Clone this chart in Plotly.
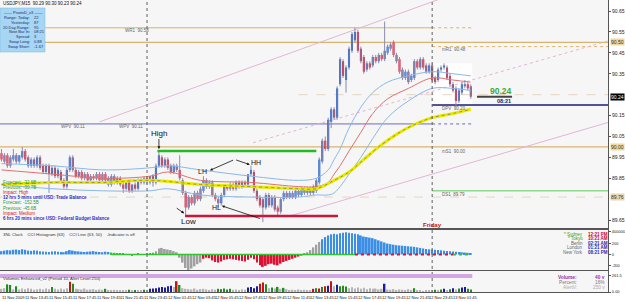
import plotly.graph_objects as go

# ---------------- data ----------------
bar_index = list(range(159))

opens = [
 89.97, 89.93, 89.96, 89.91, 89.94, 89.96, 89.93, 89.95, 89.98, 89.95,
 89.91, 89.94, 89.91, 89.95, 89.91, 89.88, 89.91, 89.87, 89.90, 89.86,
 89.88, 89.84, 89.81, 89.89, 89.95, 89.89, 89.86, 89.88, 89.85, 89.87,
 89.84, 89.86, 89.85, 89.87, 89.84, 89.87, 89.85, 89.82, 89.86, 89.83,
 89.85, 89.82, 89.80, 89.83, 89.79, 89.82, 89.80, 89.84, 89.83, 89.85,
 89.83, 89.86, 89.83, 89.91, 89.95, 89.91, 89.94, 89.91, 89.88, 89.91,
 89.89, 89.84, 89.78, 89.71, 89.76, 89.73, 89.78, 89.75, 89.79, 89.84,
 89.81, 89.83, 89.77, 89.75, 89.73, 89.77, 89.81, 89.80, 89.82, 89.80,
 89.83, 89.81, 89.83, 89.82, 89.87, 89.88, 89.79, 89.76, 89.75, 89.71,
 89.77, 89.72, 89.76, 89.71, 89.69, 89.75, 89.78, 89.76, 89.78, 89.76,
 89.79, 89.77, 89.80, 89.78, 89.80, 89.78, 89.79, 89.83, 89.93, 90.03,
 89.99, 90.12, 90.18, 90.14, 90.30, 90.41, 90.32, 90.38, 90.46, 90.51,
 90.55, 90.47, 90.43, 90.37, 90.40, 90.39, 90.43, 90.41, 90.44, 90.42,
 90.45, 90.47, 90.50, 90.44, 90.42, 90.37, 90.33, 90.36, 90.32, 90.33,
 90.41, 90.38, 90.42, 90.39, 90.36, 90.39, 90.33, 90.32, 90.37, 90.38,
 90.38, 90.34, 90.30, 90.28, 90.22, 90.26, 90.29, 90.30, 90.29]
highs = [
 89.99, 89.97, 89.97, 89.96, 89.99, 89.97, 89.96, 90.00, 89.99, 89.96,
 89.95, 89.95, 89.96, 89.96, 89.92, 89.92, 89.92, 89.91, 89.91, 89.90,
 89.89, 89.85, 89.90, 89.96, 89.96, 89.90, 89.89, 89.89, 89.88, 89.88,
 89.87, 89.87, 89.88, 89.88, 89.88, 89.88, 89.86, 89.87, 89.87, 89.86,
 89.86, 89.83, 89.84, 89.84, 89.82, 89.83, 89.85, 89.85, 89.86, 89.86,
 89.86, 89.87, 89.92, 89.98, 89.96, 89.95, 89.95, 89.92, 89.92, 89.92,
 89.96, 89.85, 89.79, 89.77, 89.77, 89.79, 89.79, 89.81, 89.86, 89.85,
 89.84, 89.84, 89.78, 89.76, 89.78, 89.82, 89.82, 89.83, 89.83, 89.84,
 89.84, 89.84, 89.84, 89.87, 89.91, 89.89, 89.80, 89.77, 89.76, 89.78,
 89.78, 89.77, 89.77, 89.72, 89.76, 89.79, 89.79, 89.79, 89.79, 89.80,
 89.80, 89.81, 89.81, 89.81, 89.81, 89.82, 89.85, 89.95, 90.04, 90.05,
 90.14, 90.19, 90.19, 90.29, 90.43, 90.42, 90.39, 90.48, 90.55, 90.57,
 90.56, 90.48, 90.44, 90.41, 90.41, 90.44, 90.44, 90.45, 90.45, 90.60,
 90.49, 90.50, 90.51, 90.45, 90.43, 90.38, 90.37, 90.37, 90.35, 90.42,
 90.42, 90.43, 90.43, 90.40, 90.40, 90.40, 90.34, 90.38, 90.39, 90.40,
 90.39, 90.35, 90.31, 90.29, 90.28, 90.31, 90.32, 90.31, 90.30]
lows = [
 89.93, 89.92, 89.90, 89.90, 89.93, 89.92, 89.92, 89.94, 89.93, 89.90,
 89.90, 89.90, 89.90, 89.89, 89.87, 89.87, 89.78, 89.86, 89.85, 89.85,
 89.83, 89.80, 89.80, 89.88, 89.88, 89.85, 89.85, 89.84, 89.84, 89.83,
 89.83, 89.84, 89.84, 89.83, 89.83, 89.83, 89.81, 89.81, 89.82, 89.82,
 89.81, 89.78, 89.79, 89.78, 89.78, 89.79, 89.79, 89.82, 89.82, 89.82,
 89.82, 89.81, 89.82, 89.90, 89.90, 89.90, 89.89, 89.87, 89.87, 89.88,
 89.84, 89.77, 89.67, 89.70, 89.72, 89.72, 89.74, 89.74, 89.78, 89.80,
 89.80, 89.76, 89.74, 89.71, 89.72, 89.76, 89.79, 89.79, 89.79, 89.79,
 89.80, 89.80, 89.81, 89.81, 89.86, 89.78, 89.74, 89.71, 89.64, 89.70,
 89.71, 89.71, 89.69, 89.67, 89.68, 89.74, 89.75, 89.75, 89.75, 89.75,
 89.76, 89.76, 89.77, 89.77, 89.77, 89.77, 89.78, 89.82, 89.92, 89.98,
 89.98, 90.09, 90.13, 90.13, 90.29, 90.33, 90.26, 90.37, 90.45, 90.50,
 90.45, 90.40, 90.35, 90.36, 90.37, 90.38, 90.40, 90.40, 90.41, 90.41,
 90.44, 90.46, 90.43, 90.40, 90.35, 90.32, 90.32, 90.30, 90.31, 90.32,
 90.37, 90.37, 90.37, 90.35, 90.35, 90.31, 90.30, 90.31, 90.36, 90.37,
 90.32, 90.29, 90.26, 90.19, 90.21, 90.25, 90.28, 90.27, 90.23]
closes = [
 89.94, 89.96, 89.91, 89.95, 89.96, 89.93, 89.96, 89.98, 89.94, 89.91,
 89.94, 89.91, 89.95, 89.90, 89.88, 89.91, 89.87, 89.90, 89.86, 89.89,
 89.84, 89.81, 89.89, 89.95, 89.89, 89.86, 89.88, 89.85, 89.87, 89.84,
 89.86, 89.85, 89.87, 89.84, 89.87, 89.84, 89.82, 89.86, 89.83, 89.85,
 89.82, 89.80, 89.83, 89.79, 89.82, 89.80, 89.84, 89.83, 89.85, 89.84,
 89.86, 89.83, 89.91, 89.96, 89.91, 89.94, 89.90, 89.88, 89.91, 89.89,
 89.85, 89.78, 89.71, 89.76, 89.73, 89.78, 89.75, 89.80, 89.84, 89.81,
 89.83, 89.77, 89.75, 89.73, 89.77, 89.81, 89.80, 89.82, 89.80, 89.83,
 89.81, 89.83, 89.82, 89.87, 89.89, 89.79, 89.75, 89.72, 89.71, 89.77,
 89.72, 89.76, 89.70, 89.69, 89.75, 89.78, 89.76, 89.78, 89.76, 89.79,
 89.77, 89.80, 89.78, 89.80, 89.78, 89.81, 89.84, 89.94, 90.03, 89.99,
 90.13, 90.18, 90.14, 90.28, 90.42, 90.34, 90.38, 90.47, 90.54, 90.55,
 90.46, 90.41, 90.36, 90.40, 90.38, 90.43, 90.41, 90.44, 90.42, 90.46,
 90.48, 90.49, 90.44, 90.41, 90.36, 90.33, 90.36, 90.31, 90.34, 90.41,
 90.38, 90.42, 90.38, 90.36, 90.39, 90.32, 90.31, 90.37, 90.38, 90.39,
 90.33, 90.30, 90.27, 90.22, 90.27, 90.30, 90.30, 90.28, 90.24]

time_label_index = [0, 8, 16, 24, 32, 40, 48, 56, 64, 72, 80, 88, 96, 104, 112, 120, 128, 136, 144, 152]
time_labels = ["11 Nov 2009", "11 Nov 13:45", "11 Nov 15:45", "11 Nov 17:45", "11 Nov 19:45",
               "11 Nov 21:45", "11 Nov 23:45", "12 Nov 01:45", "12 Nov 03:45", "12 Nov 05:45",
               "12 Nov 07:45", "12 Nov 09:45", "12 Nov 11:45", "12 Nov 13:45", "12 Nov 15:45",
               "12 Nov 17:45", "12 Nov 19:45", "12 Nov 21:45", "12 Nov 23:45", "13 Nov 01:45"]
day_separators = [49, 145]

price_ticks = [90.65, 90.55, 90.45, 90.35, 90.15, 90.05, 89.95, 89.85, 89.65]

ma_idx = [0, 17, 34, 50, 67, 84, 100, 106, 112, 117, 122, 127, 133, 138, 145, 152, 158]
ma_yellow = [89.82, 89.83, 89.83, 89.84, 89.82, 89.81, 89.80, 89.80, 89.84, 89.88, 89.94,
             90.00, 90.06, 90.10, 90.14, 90.16, 90.18]

env_idx = [0, 17, 34, 50, 56, 67, 84, 100, 106, 110, 112, 114, 117, 121, 125, 130, 137, 145, 152, 158]
env_upper = [89.92, 89.91, 89.89, 89.90, 89.91, 89.89, 89.86, 89.84, 89.85, 89.89, 89.94, 89.99,
             90.09, 90.19, 90.26, 90.31, 90.34, 90.36, 90.35, 90.34]
env_mid = [89.89, 89.87, 89.85, 89.86, 89.88, 89.84, 89.83, 89.81, 89.81, 89.83, 89.87, 89.91,
           89.98, 90.07, 90.16, 90.23, 90.28, 90.33, 90.32, 90.31]
env_lower = [89.82, 89.80, 89.79, 89.79, 89.80, 89.77, 89.76, 89.76, 89.77, 89.77, 89.78, 89.81,
             89.87, 89.95, 90.04, 90.14, 90.22, 90.28, 90.28, 90.27]

# pivot levels
WR1, R_LINE, MR1, WPV, DPV, MS1, DS1, S_DOT, BID_DOT = 90.57, 90.50, 90.48, 90.11, 90.20, 90.00, 89.79, 89.76, 90.25
high_level, low_level = 89.98, 89.67
last_close = 90.24

# channel lines (bar, price) pairs
chan_a = [(33, 90.12), (150, 90.72)]
chan_b = [(84.7, 90.02), (204.9, 90.51)]
chan_c = [(97.1, 89.67), (204.9, 90.12)]

cci = [60, 70, 80, 75, 85, 90, 80, 95, 85, 70, 65, 75, 70,
       60, 55, 50, 45, 55, 60, 50, 45, 40, 60, 80, 70, 60,
       55, 50, 45, 50, 55, 60, 50, 45, 40, 50, 45, 35, 30, 25, 20,
       10, 5, -10, -15, -5, 10, 5, -5, 10, 20, 30,
       60, 110, 120, 100, 90, 80, 60, 40,
       -60, -150, -250, -300, -260, -220, -180, -150,
       -80, -60, -70, -110, -140, -150, -130, -100, -90, -80, -90, -100, -110,
       -120, -130, -100, -60, -90, -150, -200, -230, -210, -180, -170, -190, -200, -170,
       -140, -120, -100, -80, -60, -40,
       -20, 10, 40, 80, 130, 180, 230,
       280, 320, 350, 370, 380, 370, 390, 400, 410, 400, 390, 380,
       370, 350, 330, 320, 310, 300, 280, 260, 240, 220, 200,
       190, 180, 170, 165, 160, 155, 150, 145, 140, 130, 120, 110, 100, 95, 90,
       85, 80, 75, 70, 65, 60, 55, 50, 45, 40, 35, 30, 25]
cci_runs = [("blue", 37), ("green", 15), ("gray", 16), ("red", 33), ("gray", 7), ("blue", 51)]

volume = [50, 60,
          120, 110, 40, 90,
          40, 55, 45, 60, 50, 35, 45, 50, 40, 55, 45,
          80,
          50, 40, 55, 45, 60,
          160, 130,
          50, 45, 40, 55, 35, 40, 45, 30, 40, 35,
          50,
          30, 25, 35, 20, 30, 25, 20, 35, 25, 30, 20, 25, 35, 30,
          50, 55, 60, 70, 80, 70, 90, 100, 80,
          170, 110,
          60, 50, 45, 40, 55, 35, 45, 50, 40, 30, 45, 35,
          50, 45, 55, 40, 50,
          35, 40, 30, 45, 35,
          70, 80, 60, 90,
          130, 150, 120,
          60, 70, 55, 80, 50, 65, 45,
          30, 35, 25, 40, 30, 35, 25, 30,
          50, 60, 55, 80, 90, 100,
          170,
          90, 115,
          90, 100, 85,
          60, 75, 55, 70, 50, 65, 45, 60, 50, 55, 40, 50,
          130,
          40, 35, 45, 30, 40, 35, 30, 45, 35,
          60,
          20, 25, 15, 30, 20, 25,
          35, 30, 40, 50, 30, 45, 60, 40, 55, 70, 80, 50, 40]
volume_codes = ("gg GGgG ggggggggggg G ggggg RG gggggggggg G gggggggGgGggGg BBBBBBBBg RG "
                "gggggggggggg GGGGG ggggg BBBB RRG gGgGgGg gggggggg RGRGRB R gB GGG "
                "gggggggggggg B ggggggggg G gggggg GgGBgGBgGBBGG").replace(" ", "")
alert_level = 250

# ---------------- styling / geometry ----------------
W, H = 625, 302
PW = 608
X_RANGE = [-0.5, 204.2]
Y_MAIN = [89.612, 90.703]
UP, DN, WICK = "#1f5fd6", "#d01a3c", "#8c8ca8"
FONT = "Liberation Sans"


def px(x):
    return x / PW


def py(y):
    return 1 - y / H


fig = go.Figure()

# candles: wicks + bodies
wx, wy = [], []
for i, hi, lo in zip(bar_index, highs, lows):
    wx += [i, i, None]
    wy += [lo, hi, None]
fig.add_trace(go.Scatter(x=wx, y=wy, mode="lines", line=dict(color=WICK, width=1),
                         hoverinfo="skip", showlegend=False, xaxis="x", yaxis="y"))
body_base = [min(o, c) for o, c in zip(opens, closes)]
body_h = [max(abs(c - o), 0.004) for o, c in zip(opens, closes)]
body_col = [UP if c >= o else DN for o, c in zip(opens, closes)]
fig.add_trace(go.Bar(x=bar_index, y=body_h, base=body_base, marker=dict(color=body_col, line=dict(width=0)),
                     width=0.7, showlegend=False, hoverinfo="skip", xaxis="x", yaxis="y"))

# envelopes & MAs
fig.add_trace(go.Scatter(x=env_idx, y=env_upper, mode="lines", line=dict(color="#8ab8e8", width=1, shape="spline"),
                         showlegend=False, hoverinfo="skip", xaxis="x", yaxis="y"))
fig.add_trace(go.Scatter(x=env_idx, y=env_lower, mode="lines", line=dict(color="#8ab8e8", width=1, shape="spline"),
                         showlegend=False, hoverinfo="skip", xaxis="x", yaxis="y"))
fig.add_trace(go.Scatter(x=env_idx, y=env_mid, mode="lines", line=dict(color="#e07070", width=1, shape="spline"),
                         showlegend=False, hoverinfo="skip", xaxis="x", yaxis="y"))
fig.add_trace(go.Scatter(x=ma_idx, y=ma_yellow, mode="lines", line=dict(color="#e8e800", width=3, shape="spline"),
                         showlegend=False, hoverinfo="skip", xaxis="x", yaxis="y"))
fig.add_trace(go.Scatter(x=ma_idx, y=ma_yellow, mode="lines",
                         line=dict(color="#9a9a20", width=1, dash="dot", shape="spline"),
                         showlegend=False, hoverinfo="skip", xaxis="x", yaxis="y"))

# CCI histogram
cci_palette = {"blue": "#3a8ee6", "green": "#33c433", "gray": "#a0a0a0", "red": "#dd1133"}
cci_colors = []
for name, n in cci_runs:
    cci_colors += [cci_palette[name]] * n
fig.add_trace(go.Bar(x=bar_index, y=cci, marker=dict(color=cci_colors, line=dict(width=0)), width=0.6,
                     showlegend=False, hoverinfo="skip", xaxis="x2", yaxis="y2"))
fig.add_trace(go.Scatter(x=[37, 119], y=[0, 0], mode="lines", line=dict(color="#33c433", width=1.5),
                         showlegend=False, hoverinfo="skip", xaxis="x2", yaxis="y2"))
fig.add_trace(go.Scatter(x=[119, 152], y=[0, 0], mode="lines", line=dict(color="#dd1133", width=2, dash="dot"),
                         showlegend=False, hoverinfo="skip", xaxis="x2", yaxis="y2"))
fig.add_trace(go.Scatter(x=[152, 158], y=[0, 0], mode="lines", line=dict(color="#33c433", width=2, dash="dot"),
                         showlegend=False, hoverinfo="skip", xaxis="x2", yaxis="y2"))

# Volumes
vol_palette = {"g": "#b4b4b4", "G": "#228b22", "B": "#1c1ca0", "R": "#cc1111"}
vol_colors = [vol_palette[c] for c in volume_codes]
fig.add_trace(go.Bar(x=bar_index, y=volume, marker=dict(color=vol_colors, line=dict(width=0)), width=0.5,
                     showlegend=False, hoverinfo="skip", xaxis="x3", yaxis="y3"))

# ---------------- shapes ----------------
shapes = []


def hline(y, x0, x1, color, width=1, dash="solid", yref="y", xref="x"):
    shapes.append(dict(type="line", xref=xref, yref=yref, x0=x0, x1=x1, y0=y, y1=y,
                       line=dict(color=color, width=width, dash=dash), layer="below"))


TAN = "#d9b470"
# today box
shapes.append(dict(type="rect", xref="x", yref="y", x0=145, x1=158.5, y0=DPV, y1=90.40,
                   fillcolor="rgba(255,255,255,0.85)", line=dict(width=0), layer="below"))
hline(WR1, X_RANGE[0], 145, TAN, 1)
hline(WR1, 145, 158.5, TAN, 1, "dot")
hline(R_LINE, X_RANGE[0], X_RANGE[1], TAN, 1.2)
hline(MR1, 145, X_RANGE[1], TAN, 1, "dot")
hline(BID_DOT, 100, X_RANGE[1], "#e3d6bf", 1, "dash")
hline(WPV, X_RANGE[0], 145, "#6b6bc8", 1)
hline(WPV, 145, 158.5, "#6b6bc8", 1, "dot")
hline(DPV, 145, X_RANGE[1], "#1b1b7a", 1.5)
hline(MS1, X_RANGE[0], X_RANGE[1], TAN, 1.2)
hline(DS1, 145, X_RANGE[1], "#8fd68f", 1.5)
hline(S_DOT, X_RANGE[0], X_RANGE[1], "#e3d6bf", 1, "dash")

for (x0, y0), (x1, y1), dash in [(chan_a[0], chan_a[1], "solid"), (chan_b[0], chan_b[1], "dot"),
                                  (chan_c[0], chan_c[1], "solid")]:
    shapes.append(dict(type="line", xref="x", yref="y", x0=x0, y0=y0, x1=x1, y1=y1,
                       line=dict(color="#e2b6d6", width=1, dash=dash), layer="below"))

# support / resistance drawn by user
shapes.append(dict(type="line", xref="x", yref="y", x0=52.5, x1=106, y0=high_level, y1=high_level,
                   line=dict(color="#22bb22", width=2.5)))
shapes.append(dict(type="line", xref="x", yref="y", x0=61.8, x1=113.3, y0=low_level, y1=low_level,
                   line=dict(color="#c8183c", width=2.5)))

# day separators (all panels)
for d in day_separators:
    shapes.append(dict(type="line", xref="x", yref="paper", x0=d, x1=d, y0=py(293), y1=1,
                       line=dict(color="#606060", width=1, dash="dot")))

# last price marker line
shapes.append(dict(type="line", xref="x", yref="y", x0=160.1, x1=171.9, y0=last_close, y1=last_close,
                   line=dict(color="#444444", width=2)))

# volume alert level
shapes.append(dict(type="line", xref="x3", yref="y3", x0=X_RANGE[0], x1=158.5, y0=alert_level, y1=alert_level,
                   line=dict(color="#d2a6e2", width=4)))

# info box
shapes.append(dict(type="rect", xref="paper", yref="paper", x0=0, x1=px(45), y0=py(52), y1=py(8),
                   fillcolor="#a6d6f4", line=dict(color="#7fb6dc", width=0.5)))

# ---------------- annotations ----------------
ann = []


def text(x, y, s, size=4.5, color="#222", xanchor="left", yanchor="middle", xref="paper", yref="paper",
         bold=False, bg=None):
    d = dict(x=x, y=y, xref=xref, yref=yref, text=("<b>%s</b>" % s) if bold else s, showarrow=False,
             xanchor=xanchor, yanchor=yanchor, font=dict(size=size, color=color, family=FONT),
             borderpad=0)
    if bg:
        d["bgcolor"] = bg
    ann.append(d)


def arrow(xh, yh, xt, yt):
    ann.append(dict(x=xh, y=yh, ax=xt, ay=yt, xref="x", yref="y", axref="x", ayref="y", text="",
                    showarrow=True, arrowhead=2, arrowsize=0.7, arrowwidth=0.8, arrowcolor="#111"))


text(px(2), py(3.5), "USDJPY,M15  90.29 90.30 90.23 90.24", 4.5, "#111")

info_rows = [("Range: Today:", "22"), ("Yesterday:", "87"), ("20 Day Range:", "95"),
             ("Next Bar In:", "08:21"), ("Spread:", "3"), ("Swap Long:", "0.88"), ("Swap Short:", "-1.67")]
text(px(22.5), py(12.5), "—— PivotsD_v3 ——", 4, "#1a2a6a", xanchor="center")
for k, (lab, val) in enumerate(info_rows):
    yy = 17.5 + 4.8 * k
    text(px(31), py(yy), lab, 4, "#1a2a6a", xanchor="right")
    text(px(33), py(yy), val, 4, "#1a2a6a")

# pivot labels
text(45.6, 90.555, "WR1  90.58", 4.5, "#666", xanchor="center", xref="x", yref="y")
text(24, 90.10, "WPV  90.11", 4.5, "#666", xanchor="center", xref="x", yref="y")
text(43.6, 90.10, "WPV  90.11", 4.5, "#666", xanchor="center", xref="x", yref="y")
text(148, 90.465, "mR1  90.48", 4.5, "#666", xref="x", yref="y")
text(148, 90.183, "DPV  90.20", 4.5, "#666", xref="x", yref="y")
text(148, 89.978, "mS1  90.00", 4.5, "#666", xref="x", yref="y")
text(148, 89.772, "DS1  89.79", 4.5, "#666", xref="x", yref="y")

# swing annotations
ann.append(dict(x=53, y=89.99, xref="x", yref="y", text="High", showarrow=True, ax=0, ay=-16,
                arrowhead=2, arrowsize=0.7, arrowwidth=0.8, arrowcolor="#111",
                font=dict(size=8, color="#111", family=FONT)))
text(63, 89.641, "Low", 8, "#111", xanchor="center", xref="x", yref="y")
arrow(61.5, 89.682, 58.5, 89.712)
text(67.8, 89.880, "LH", 7, "#111", xanchor="center", xref="x", yref="y")
text(85.6, 89.925, "HH", 7, "#111", xanchor="center", xref="x", yref="y")
text(72.5, 89.708, "HL", 7, "#111", xanchor="center", xref="x", yref="y")
text(88.2, 89.593, "LL", 8, "#111", xanchor="center", xref="x", yref="y")
arrow(70.2, 89.888, 78.5, 89.940)
arrow(83.6, 89.915, 78.5, 89.940)
arrow(74.2, 89.718, 87.5, 89.655)

text(145, py(224.5), "Friday", 6, "#cc1010", xanchor="center", xref="x", bold=True)

# news block
news = [("Forecast: -32.6B", "#2f9a2f", False), ("Previous: -30.7B", "#2f9a2f", False),
        ("Impact: High", "#dd1010", False), ("12 hrs 5 mins until USD: Trade Balance", "#3030c8", True),
        ("Forecast: -152.5B", "#2f9a2f", False), ("Previous: -45.6B", "#2f9a2f", False),
        ("Impact: Medium", "#dd1010", False), ("6 hrs 20 mins since USD: Federal Budget Balance", "#3030c8", True)]
for k, (s, col, b) in enumerate(news):
    text(px(2), py(182.5 + 5.1 * k), s, 4.5, col, bold=b)

# current price tag
text(px(501), py(91), "90.24", 8.5, "#3aa83a", xanchor="center", bold=True)
text(px(504), py(101), "08:21", 5.5, "#1b1b7a", xanchor="center", bold=True)

# panel headers
text(px(2), py(234.5), "3NL Clock    CCI Histogram (63)    CCI Line (63, 50)    -Indicator is off", 4.3, "#333")
text(px(2), py(278), "Volumes Enhanced_v2 (Period 10, Alert Level 250)", 4.3, "#333")

# clocks
clocks = [("* Sydney", "12:21 PM", "#2a9d2a", "#cc0033"), ("* Tokyo", "10:21 AM", "#2a9d2a", "#cc0033"),
          ("Berlin", "02:21 AM", "#666", "#2a2aaa"), ("London", "01:21 AM", "#666", "#2a2aaa"),
          ("New York", "08:21 PM", "#666", "#2a2aaa")]
for k, (city, t, c1, c2) in enumerate(clocks):
    yy = 234 + 4.6 * k
    text(px(584), py(yy), city, 4.5, c1, xanchor="right")
    text(px(587), py(yy), t, 4.5, c2, bold=True)

# volume info
vol_info = [("Volume:", "40 v", "#9a30b0", True), ("Percent:", "16%", "#777", False),
            ("AlertV:", "250 v", "#aaa", False)]
for k, (lab, val, col, b) in enumerate(vol_info):
    yy = 277.5 + 5 * k
    text(px(578), py(yy), lab, 4.8, col, xanchor="right", bold=b)
    text(px(606), py(yy), val, 4.8, col, xanchor="right", bold=b)

# time labels
for idx, lab in zip(time_label_index, time_labels):
    text(idx - 0.3, py(297.5), lab, 4, "#111", xref="x")

# highlighted axis labels
for price, bg, fg in [(R_LINE, "#f0d89c", "#333"), (last_close, "#000000", "#ffffff"),
                      (MS1, "#f0d89c", "#333"), (S_DOT, "#ead8b0", "#333")]:
    text(px(609.5), price, "%.2f" % price, 5, fg, yref="y", bg=bg)

# ---------------- layout ----------------
axis_common = dict(showgrid=False, zeroline=False, showline=True, mirror=True, linecolor="#555",
                   linewidth=1, fixedrange=True, automargin=False)
fig.update_layout(
    width=W, height=H, margin=dict(l=0, r=W - PW, t=0, b=0),
    paper_bgcolor="#ffffff", plot_bgcolor="#f6f6f6",
    showlegend=False, barmode="overlay",
    font=dict(family=FONT, size=5, color="#222"),
    xaxis=dict(domain=[0, 1], range=X_RANGE, anchor="y", showticklabels=False, ticks="",
               rangeslider=dict(visible=False), **axis_common),
    xaxis2=dict(domain=[0, 1], range=X_RANGE, anchor="y2", showticklabels=False, ticks="", **axis_common),
    xaxis3=dict(domain=[0, 1], range=X_RANGE, anchor="y3", showticklabels=False, ticks="", **axis_common),
    yaxis=dict(domain=[1 - 228 / H, 1], range=Y_MAIN, side="right", tickvals=price_ticks,
               ticktext=["%.2f" % p for p in price_ticks], ticks="outside", ticklen=2, tickcolor="#555",
               tickfont=dict(size=5, color="#222"), anchor="x", **axis_common),
    yaxis2=dict(domain=[1 - 273 / H, 1 - 230 / H], range=[-342, 450], side="right",
                tickvals=[420, 200, 0, -200], ticktext=["400000", "200", "0", "-200"],
                ticks="outside", ticklen=2, tickcolor="#555", tickfont=dict(size=4, color="#222"),
                anchor="x2", **axis_common),
    yaxis3=dict(domain=[1 - 292 / H, 1 - 271 / H], range=[0, 330], side="right",
                tickvals=[261.5, 0], ticktext=["261.5", "0.00"], ticks="outside", ticklen=2,
                tickcolor="#555", tickfont=dict(size=4, color="#222"), anchor="x3", **axis_common),
    shapes=shapes, annotations=ann,
)

fig.write_html("out.html")
